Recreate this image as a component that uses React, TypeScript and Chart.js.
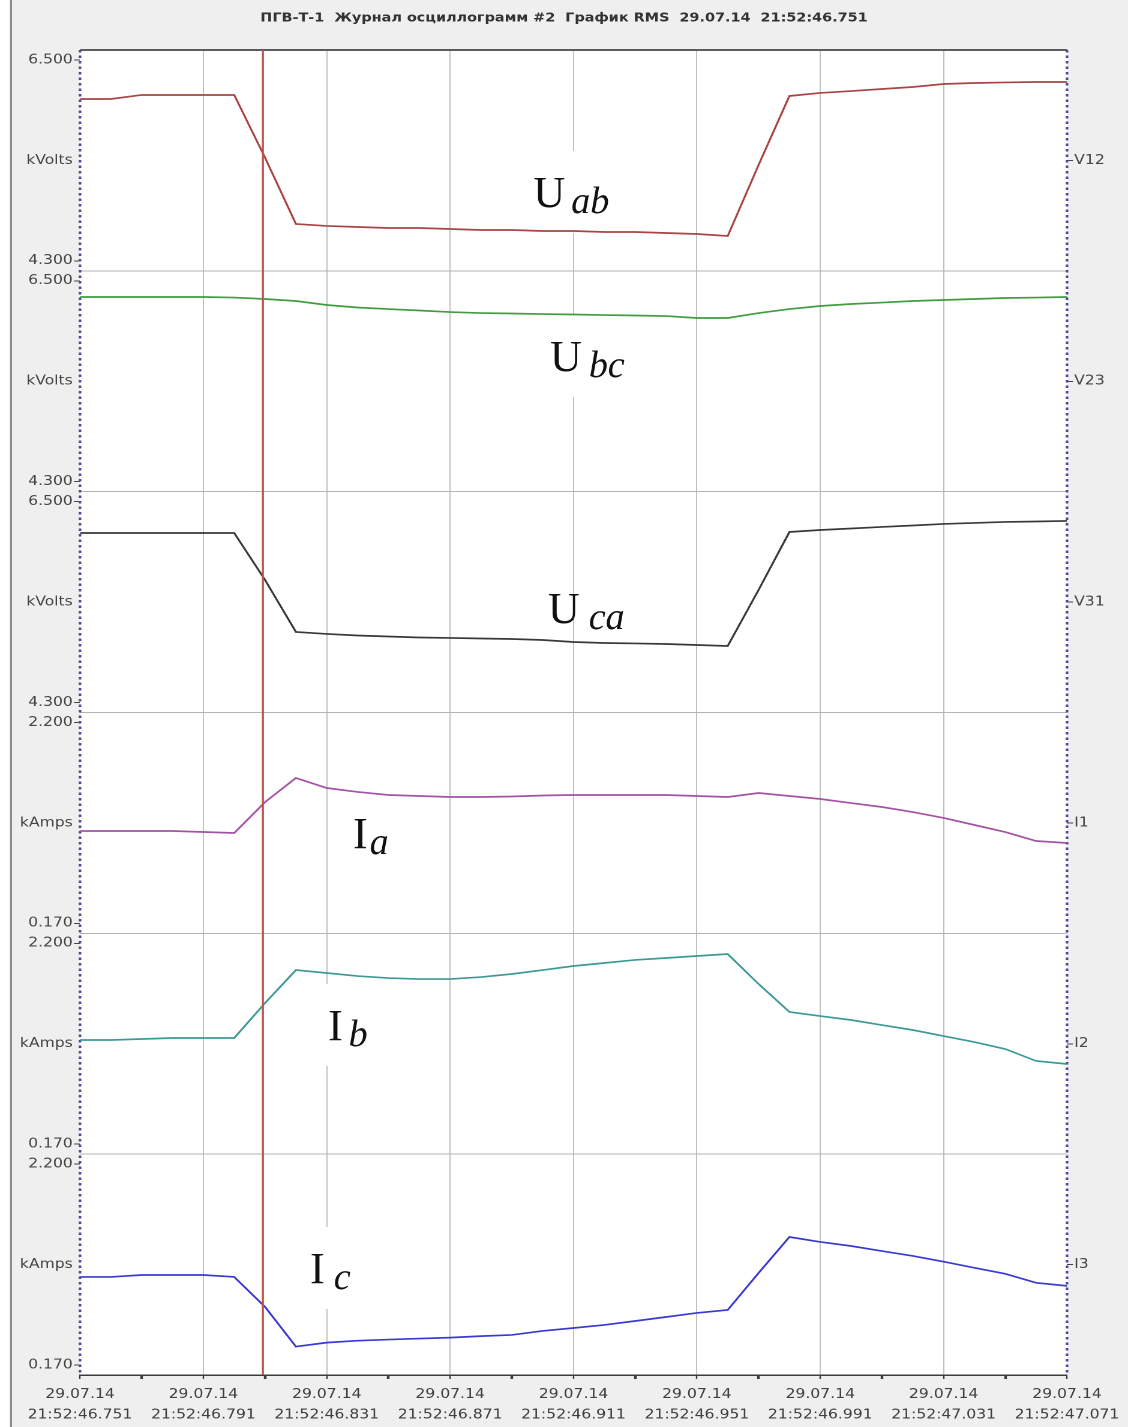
import { useEffect, useRef } from 'react';
import { Chart, registerables } from 'chart.js';

Chart.register(...registerables);

// ---- recording meta ----
const TITLE = 'ПГВ-Т-1  Журнал осциллограмм #2  График RMS  29.07.14  21:52:46.751';
const DATE_LABEL = '29.07.14';
const CLOCK_PREFIX = '21:52:';
const START_SECONDS = 46.751;
const SPAN_MS = 320;
const MINOR_STEP_MS = 20;
const MAJOR_STEP_MS = 40;
const CURSOR_MS = 59.3;

// ---- samples (ms from start of record) ----
const TIME_MS = [
  0, 10, 20, 30, 40, 50, 60, 70, 80, 90, 100, 110, 120, 130, 140, 150, 160,
  170, 180, 190, 200, 210, 220, 230, 240, 250, 260, 270, 280, 290, 300, 310, 320,
];

// line voltages, kV
const U_AB = [
  6.073, 6.073, 6.117, 6.117, 6.117, 6.117, 5.43, 4.704, 4.682, 4.671, 4.66, 4.66,
  4.649, 4.638, 4.638, 4.627, 4.627, 4.616, 4.616, 4.605, 4.594, 4.572, 5.35, 6.106,
  6.139, 6.16, 6.182, 6.204, 6.237, 6.248, 6.254, 6.259, 6.259,
];
const U_BC = [
  6.323, 6.323, 6.323, 6.323, 6.323, 6.317, 6.301, 6.279, 6.235, 6.208, 6.191, 6.175,
  6.158, 6.147, 6.142, 6.136, 6.131, 6.125, 6.12, 6.114, 6.093, 6.093, 6.147, 6.191,
  6.224, 6.246, 6.262, 6.279, 6.29, 6.301, 6.312, 6.317, 6.323,
];
const U_CA = [
  6.157, 6.157, 6.157, 6.157, 6.157, 6.157, 5.642, 5.073, 5.051, 5.034, 5.023, 5.012,
  5.007, 5.001, 4.996, 4.985, 4.963, 4.952, 4.947, 4.941, 4.93, 4.919, 5.533, 6.168,
  6.19, 6.206, 6.223, 6.239, 6.256, 6.267, 6.278, 6.283, 6.289,
];

// phase currents, kA
const I_A = [
  1.103, 1.103, 1.103, 1.103, 1.093, 1.083, 1.396, 1.639, 1.538, 1.498, 1.467, 1.457,
  1.447, 1.447, 1.452, 1.462, 1.467, 1.467, 1.467, 1.467, 1.457, 1.447, 1.487, 1.457,
  1.427, 1.386, 1.346, 1.295, 1.235, 1.164, 1.093, 1.002, 0.982,
];
const I_B = [
  1.223, 1.223, 1.233, 1.243, 1.243, 1.243, 1.597, 1.93, 1.9, 1.869, 1.849, 1.839,
  1.839, 1.859, 1.89, 1.93, 1.971, 2.001, 2.032, 2.052, 2.072, 2.092, 1.789, 1.506,
  1.465, 1.425, 1.374, 1.324, 1.263, 1.202, 1.132, 1.011, 0.98,
];
const I_C = [
  1.06, 1.06, 1.08, 1.08, 1.08, 1.06, 0.757, 0.356, 0.396, 0.416, 0.427, 0.437,
  0.447, 0.462, 0.474, 0.514, 0.544, 0.575, 0.615, 0.655, 0.696, 0.726, 1.1, 1.464,
  1.414, 1.373, 1.322, 1.272, 1.214, 1.152, 1.092, 1.001, 0.97,
];

// axis limits shown on each strip
const VOLT_RANGE = [4.3, 6.5];
const AMP_RANGE = [0.17, 2.2];

const CHANNELS = [
  { id: 'p0', tag: 'V12', unit: 'kVolts', range: VOLT_RANGE, values: U_AB, color: '#a84444' },
  { id: 'p1', tag: 'V23', unit: 'kVolts', range: VOLT_RANGE, values: U_BC, color: '#3f9c3f' },
  { id: 'p2', tag: 'V31', unit: 'kVolts', range: VOLT_RANGE, values: U_CA, color: '#383838' },
  { id: 'p3', tag: 'I1', unit: 'kAmps', range: AMP_RANGE, values: I_A, color: '#a452a4' },
  { id: 'p4', tag: 'I2', unit: 'kAmps', range: AMP_RANGE, values: I_B, color: '#3c9a96' },
  { id: 'p5', tag: 'I3', unit: 'kAmps', range: AMP_RANGE, values: I_C, color: '#3a3ad2' },
];

// signal captions, anchored in (ms, value) of their strip
const CAPTIONS = [
  { axis: 'p0', main: 'U', sub: 'ab', t: 147, v: 4.89, gap: 6, mask: true },
  { axis: 'p1', main: 'U', sub: 'bc', t: 152.4, v: 5.512, gap: 7, mask: true },
  { axis: 'p2', main: 'U', sub: 'ca', t: 151.7, v: 5.171, gap: 9, mask: false },
  { axis: 'p3', main: 'I', sub: 'a', t: 88.5, v: 0.931, gap: 2, mask: true },
  { axis: 'p4', main: 'I', sub: 'b', t: 80.4, v: 1.223, gap: 6, mask: true },
  { axis: 'p5', main: 'I', sub: 'c', t: 74.6, v: 0.999, gap: 9, mask: true },
];

// the recorder screen is drawn in a narrower canvas and widened horizontally
const OUT_W = 1128;
const OUT_H = 1427;
const SX = 1.2;
const CANVAS_W = OUT_W / SX;

const UI_FONT = '"DejaVu Sans", Verdana, sans-serif';
const SERIF = '"Liberation Serif", "Times New Roman", serif';
const PAD_FRACTION = 0.0498;

function captionMetrics(ctx: CanvasRenderingContext2D, c: any) {
  ctx.font = `44px ${SERIF}`;
  const wMain = ctx.measureText(c.main).width;
  ctx.font = `italic 38px ${SERIF}`;
  const wSub = ctx.measureText(c.sub).width;
  return { wMain, wSub };
}

function dottedVertical(ctx: CanvasRenderingContext2D, x: number, top: number, bottom: number) {
  ctx.save();
  ctx.strokeStyle = '#4a4a9c';
  ctx.lineWidth = 2.6 / SX;
  ctx.setLineDash([2.5, 3]);
  ctx.beginPath();
  ctx.moveTo(x, top);
  ctx.lineTo(x, bottom);
  ctx.stroke();
  ctx.restore();
}

const oscPlugin = {
  id: 'oscFrame',
  beforeDraw(chart: any) {
    const { ctx, width, height, chartArea: a } = chart;
    ctx.save();
    ctx.fillStyle = '#efefef';
    ctx.fillRect(0, 0, width, height);
    ctx.fillStyle = '#ffffff';
    ctx.fillRect(0, 0, 10 / SX, height);
    ctx.fillStyle = '#8c8c8c';
    ctx.fillRect(10 / SX, 0, 2 / SX, height);
    ctx.fillStyle = '#ffffff';
    ctx.fillRect(a.left, a.top, a.right - a.left, a.bottom - a.top);
    ctx.restore();
  },
  beforeDatasetsDraw(chart: any) {
    const { ctx, scales, chartArea: a } = chart;
    ctx.save();
    // white plates under the captions
    ctx.fillStyle = '#ffffff';
    for (const c of CAPTIONS) {
      if (!c.mask) continue;
      const x = scales.x.getPixelForValue(c.t);
      const y = scales[c.axis].getPixelForValue(c.v);
      const m = captionMetrics(ctx, c);
      ctx.fillRect(x - 14 / SX, y - 56, (m.wMain + c.gap + m.wSub + 24) / SX, 82);
    }
    ctx.restore();
    // frame: dark top edge and dotted side borders
    ctx.save();
    ctx.strokeStyle = '#5c5c5c';
    ctx.lineWidth = 2;
    ctx.beginPath();
    ctx.moveTo(a.left, a.top);
    ctx.lineTo(a.right, a.top);
    ctx.stroke();
    ctx.restore();
    dottedVertical(ctx, a.left, a.top, a.bottom);
    dottedVertical(ctx, a.right, a.top, a.bottom);
  },
  afterDatasetsDraw(chart: any) {
    const { ctx, scales, chartArea: a } = chart;
    ctx.save();
    // measurement cursor
    const cx = scales.x.getPixelForValue(CURSOR_MS);
    ctx.strokeStyle = '#c4504c';
    ctx.lineWidth = 2 / SX;
    ctx.beginPath();
    ctx.moveTo(cx, a.top);
    ctx.lineTo(cx, a.bottom);
    ctx.stroke();
    // captions (kept at natural proportions)
    ctx.fillStyle = '#111111';
    ctx.textBaseline = 'alphabetic';
    ctx.textAlign = 'left';
    for (const c of CAPTIONS) {
      const x = scales.x.getPixelForValue(c.t);
      const y = scales[c.axis].getPixelForValue(c.v);
      const m = captionMetrics(ctx, c);
      ctx.save();
      ctx.translate(x, y);
      ctx.scale(1 / SX, 1);
      ctx.font = `44px ${SERIF}`;
      ctx.fillText(c.main, 0, 0);
      ctx.font = `italic 38px ${SERIF}`;
      ctx.fillText(c.sub, m.wMain + c.gap, 6);
      ctx.restore();
    }
    ctx.restore();
  },
};

function clockLabel(ms: number) {
  return CLOCK_PREFIX + (START_SECONDS + ms / 1000).toFixed(3);
}

function buildScales() {
  const scales: any = {
    x: {
      type: 'linear',
      position: 'bottom',
      min: 0,
      max: SPAN_MS,
      afterFit: (s: any) => {
        s.height = 52;
      },
      border: { color: '#3c3c3c', width: 1.5 },
      grid: {
        color: (c: any) => {
          const v = c.tick ? c.tick.value : -1;
          return v > 0 && v < SPAN_MS && v % MAJOR_STEP_MS === 0 ? '#c0c0c0' : 'transparent';
        },
        lineWidth: 1,
        tickColor: '#3c3c3c',
        tickWidth: (c: any) => (c.tick && c.tick.value % MAJOR_STEP_MS === 0 ? 1.2 : 2.2),
        tickLength: 4,
      },
      ticks: {
        stepSize: MINOR_STEP_MS,
        autoSkip: false,
        maxRotation: 0,
        padding: 5,
        color: '#404040',
        font: { family: UI_FONT, size: 13, lineHeight: 1.6 },
        callback: (v: any) => {
          const ms = Number(v);
          return ms % MAJOR_STEP_MS === 0 ? [DATE_LABEL, clockLabel(ms)] : '';
        },
      },
    },
  };

  CHANNELS.forEach((ch, i) => {
    const [lo, hi] = ch.range;
    const pad = (hi - lo) * PAD_FRACTION;
    const min = lo - pad;
    const max = hi + pad;
    const mid = (lo + hi) / 2;
    scales[ch.id] = {
      type: 'linear',
      position: 'left',
      stack: 'left',
      stackWeight: 1,
      weight: CHANNELS.length - i,
      min,
      max,
      afterFit: (s: any) => {
        s.width = 80 / SX;
      },
      afterBuildTicks: (s: any) => {
        s.ticks = [min, lo, mid, hi, max].map((value) => ({ value }));
      },
      border: { display: false },
      grid: {
        color: (c: any) => (c.index === 0 || (c.index === 4 && i > 0) ? '#b4b4b4' : 'transparent'),
        lineWidth: 1,
        tickColor: (c: any) => (c.index === 1 || c.index === 3 ? '#444444' : 'transparent'),
        tickLength: 6 / SX,
      },
      ticks: {
        autoSkip: false,
        padding: 1,
        color: '#464646',
        font: { family: UI_FONT, size: 13 },
        callback: (v: any, idx: number) => {
          if (idx === 2) return ch.unit;
          if (idx === 1 || idx === 3) return Number(v).toFixed(3);
          return '';
        },
      },
    };
    scales[ch.id + 'r'] = {
      type: 'linear',
      position: 'right',
      stack: 'right',
      stackWeight: 1,
      weight: i,
      min: 0,
      max: 1,
      afterFit: (s: any) => {
        s.width = 61 / SX;
      },
      afterBuildTicks: (s: any) => {
        s.ticks = [{ value: 0.5 }];
      },
      border: { display: false },
      grid: { drawOnChartArea: false, tickColor: '#444444', tickLength: 6 / SX },
      ticks: {
        autoSkip: false,
        padding: 1,
        color: '#464646',
        font: { family: UI_FONT, size: 13 },
        callback: () => ch.tag,
      },
    };
  });
  return scales;
}

export default function App() {
  const canvasRef = useRef<HTMLCanvasElement | null>(null);

  useEffect(() => {
    document.body.style.margin = '0';
    document.body.style.overflow = 'hidden';
    const canvas = canvasRef.current;
    if (!canvas) return;

    const chart = new Chart(canvas, {
      type: 'line',
      data: {
        datasets: CHANNELS.map((ch) => ({
          label: ch.tag,
          yAxisID: ch.id,
          xAxisID: 'x',
          data: TIME_MS.map((t, k) => ({ x: t, y: ch.values[k] })),
          borderColor: ch.color,
          borderWidth: 1.7,
          pointRadius: 0,
          tension: 0,
          fill: false,
        })),
      },
      options: {
        responsive: false,
        animation: false,
        devicePixelRatio: 2,
        parsing: false as any,
        layout: { padding: 0 },
        plugins: {
          legend: { display: false },
          tooltip: { enabled: false },
          title: {
            display: true,
            text: TITLE,
            color: '#333333',
            font: { family: UI_FONT, size: 12, weight: 'bold' },
            padding: { top: 11, bottom: 24.6 },
          },
        },
        scales: buildScales(),
      },
      plugins: [oscPlugin],
    });

    return () => chart.destroy();
  }, []);

  return (
    <div style={{ width: OUT_W, height: OUT_H, overflow: 'hidden', background: '#efefef' }}>
      <canvas
        ref={canvasRef}
        width={CANVAS_W}
        height={OUT_H}
        style={{ display: 'block', transform: `scale(${SX}, 1)`, transformOrigin: '0 0' }}
      />
    </div>
  );
}
